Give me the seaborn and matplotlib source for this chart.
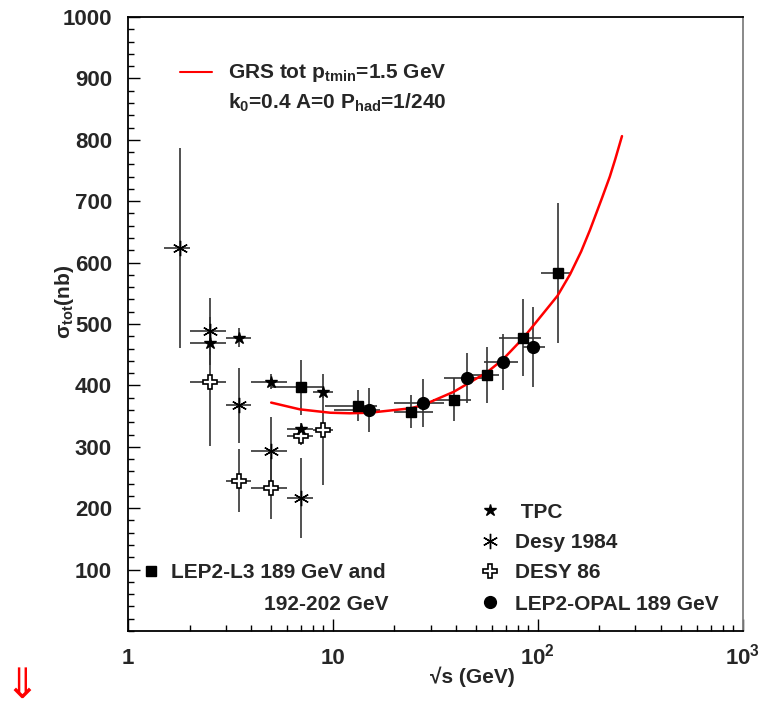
import numpy as np
import pandas as pd
import matplotlib
matplotlib.use("Agg")
import matplotlib.pyplot as plt
import seaborn as sns
from matplotlib.ticker import MultipleLocator, LogLocator, NullFormatter

# ---------------- data ----------------
tpc_x = [2.5, 3.5, 5.0, 7.0, 9.0]
tpc_y = [469, 478, 406, 329, 389]
tpc_xlo = [2.0, 3.0, 4.0, 6.0, 8.0]
tpc_xhi = [3.0, 4.0, 6.0, 8.0, 10.0]
tpc_yerr = [20, 15, 12, 10, 10]

desy84_x = [1.8, 2.5, 3.5, 5.0, 7.0]
desy84_y = [624, 488, 368, 293, 216]
desy84_xlo = [1.5, 2.0, 3.0, 4.0, 6.0]
desy84_xhi = [2.0, 3.0, 4.0, 6.0, 8.0]
desy84_yerr = [163, 55, 61, 55, 65]

desy86_x = [2.5, 3.5, 5.0, 7.0, 9.0]
desy86_y = [406, 245, 233, 318, 328]
desy86_xlo = [2.0, 3.0, 4.0, 6.0, 8.0]
desy86_xhi = [3.0, 4.0, 6.0, 8.0, 10.0]
desy86_yerr = [105, 52, 50, 15, 90]

l3_x = [7.0, 13.2, 24, 39, 56.4, 85, 125]
l3_y = [397, 367, 357, 377, 417, 478, 583]
l3_xlo = [5.0, 9.2, 20, 31, 47, 65, 104]
l3_xhi = [9.0, 16.5, 31, 47, 65, 104, 145]
l3_yerr = [45, 25, 27, 35, 46, 62, 114]

opal_x = [15.1, 27.6, 45, 67.5, 95]
opal_y = [360, 371, 412, 438, 463]
opal_xlo = [10.1, 20, 35, 55, 85]
opal_xhi = [17.0, 35, 56, 80, 109]
opal_yerr = [36, 39, 41, 46, 65]

grs_x = [5.0, 6.9, 9.7, 12.1, 15.1, 24, 27.6, 39, 56.4, 67.5, 85,
         125, 144, 163, 180, 206, 225, 239, 258]
grs_y = [372, 361, 355.5, 354.6, 355.5, 362.7, 368, 389.7, 421, 442, 477,
         546, 581, 618, 653, 705, 740, 768, 806]

x_ticks = [1, 10, 100, 1000]
x_ticklabels = ["1", "10", "$10^{2}$", "$10^{3}$"]
y_ticks = [100, 200, 300, 400, 500, 600, 700, 800, 900, 1000]
y_ticklabels = [str(v) for v in y_ticks]

# ---------------- style ----------------
sns.set_style("white")
plt.rcParams["font.family"] = ["Liberation Sans", "DejaVu Sans"]
plt.rcParams["font.weight"] = "bold"
plt.rcParams["mathtext.fontset"] = "custom"
plt.rcParams["mathtext.rm"] = "Liberation Sans:bold"
plt.rcParams["mathtext.bf"] = "Liberation Sans:bold"
plt.rcParams["mathtext.it"] = "Liberation Sans:bold"
plt.rcParams["mathtext.sf"] = "Liberation Sans:bold"
plt.rcParams["mathtext.default"] = "bf"

W, H = 765, 708
fig = plt.figure(figsize=(W / 100, H / 100), dpi=100)
L, R, B, T = 128, 742.5, 631, 17
ax = fig.add_axes([L / W, 1 - B / H, (R - L) / W, (B - T) / H])
ax.set_facecolor("white")

ecol = "0.2"

def series(x, y, xlo, xhi, yerr, **kw):
    x = np.asarray(x, float)
    xerr = [x - np.asarray(xlo, float), np.asarray(xhi, float) - x]
    ax.errorbar(x, y, xerr=xerr, yerr=yerr, fmt="none", ecolor=ecol,
                elinewidth=1.2, capsize=0, zorder=2)
    ax.plot(x, y, linestyle="none", zorder=4, **kw)

mk_tpc = dict(marker="*", ms=9, color="black", mec="black")
mk_d84 = dict(marker=(6, 2, 0), ms=11, color="black", mew=1.0)
mk_d86 = dict(marker="P", ms=10.5, mfc="white", mec="black", mew=1.2)
mk_l3 = dict(marker="s", ms=7.5, color="black")
mk_opal = dict(marker="o", ms=8.5, color="black")

series(desy86_x, desy86_y, desy86_xlo, desy86_xhi, desy86_yerr, **mk_d86)
series(desy84_x, desy84_y, desy84_xlo, desy84_xhi, desy84_yerr, **mk_d84)
series(tpc_x, tpc_y, tpc_xlo, tpc_xhi, tpc_yerr, **mk_tpc)
series(l3_x, l3_y, l3_xlo, l3_xhi, l3_yerr, **mk_l3)
series(opal_x, opal_y, opal_xlo, opal_xhi, opal_yerr, **mk_opal)

grs = pd.DataFrame({"x": grs_x, "y": grs_y})
sns.lineplot(data=grs, x="x", y="y", ax=ax, color="red", lw=1.8,
             sort=False, estimator=None, zorder=3, legend=False)

# ---------------- axes ----------------
ax.set_xscale("log")
ax.set_xlim(1, 1000)
ax.set_ylim(0, 1000)
ax.set_xticks(x_ticks, labels=x_ticklabels)
ax.xaxis.set_minor_locator(LogLocator(base=10, subs=np.arange(2, 10)))
ax.xaxis.set_minor_formatter(NullFormatter())
ax.set_yticks(y_ticks, labels=y_ticklabels)
ax.yaxis.set_minor_locator(MultipleLocator(20))

ax.tick_params(axis="both", which="both", direction="in", top=False, right=False,
               bottom=True, left=True, color="black", width=1.0)
ax.tick_params(axis="both", which="major", length=8.5)
ax.tick_params(axis="both", which="minor", length=4)
ax.tick_params(axis="x", which="major", labelsize=16, pad=24)
ax.tick_params(axis="y", which="major", labelsize=16, pad=11.5)
for lab in ax.get_xticklabels():
    lab.set_va("baseline")
    lab.set_fontweight("bold")
for lab in ax.get_yticklabels():
    lab.set_fontweight("bold")

for side in ["left", "bottom", "top"]:
    ax.spines[side].set_color("black")
    ax.spines[side].set_linewidth(1.3)
ax.spines["right"].set_color("0.5")
ax.spines["right"].set_linewidth(1.3)

ax.set_xlabel("√s (GeV)", fontsize=15, fontweight="bold")
ax.xaxis.set_label_coords((472 - L) / (R - L), (B - 677) / (B - T))
ax.xaxis.label.set_va("center")
ax.set_ylabel("σ$_{tot}$(nb)", fontsize=15, fontweight="bold")
ax.yaxis.set_label_coords((65 - L) / (R - L), (B - 302) / (B - T))
ax.yaxis.label.set_va("center")

# ---------------- legends (manual, ROOT-like) ----------------
def fx(px):
    return (px - L) / (R - L)

def fy(py):
    return (B - py) / (B - T)

tr = ax.transAxes
ax.plot([fx(180), fx(212)], [fy(72), fy(72)], color="red", lw=1.5, transform=tr,
        clip_on=False)
ax.text(fx(228), fy(78), "GRS tot p$_{tmin}$=1.5 GeV", transform=tr,
        fontsize=15, fontweight="bold", va="baseline", ha="left")
ax.text(fx(228), fy(109), "k$_{0}$=0.4 A=0 P$_{had}$=1/240", transform=tr,
        fontsize=15, fontweight="bold", va="baseline", ha="left")

rows = [
    (mk_tpc, " TPC", 510),
    (mk_d84, "Desy 1984", 541),
    (mk_d86, "DESY 86", 571),
    (mk_opal, "LEP2-OPAL 189 GeV", 602),
]
for mk, txt, py in rows:
    ax.plot([fx(490)], [fy(py)], linestyle="none", transform=tr, clip_on=False, **mk)
    ax.text(fx(515), fy(py + 7.5), txt, transform=tr, fontsize=15,
            fontweight="bold", va="baseline", ha="left")

ax.plot([fx(151)], [fy(571)], linestyle="none", transform=tr, clip_on=False, **mk_l3)
ax.text(fx(171), fy(578.5), "LEP2-L3 189 GeV and", transform=tr, fontsize=15,
        fontweight="bold", va="baseline", ha="left")
ax.text(fx(388), fy(609.5), "192-202 GeV", transform=tr, fontsize=15,
        fontweight="bold", va="baseline", ha="right")

fig.text(22 / W, 1 - 686 / H, "⇓", color="red", fontsize=30,
         family=["DejaVu Sans"], fontweight="normal", ha="center", va="center")

fig.savefig("out.png", dpi=100, facecolor="white")
